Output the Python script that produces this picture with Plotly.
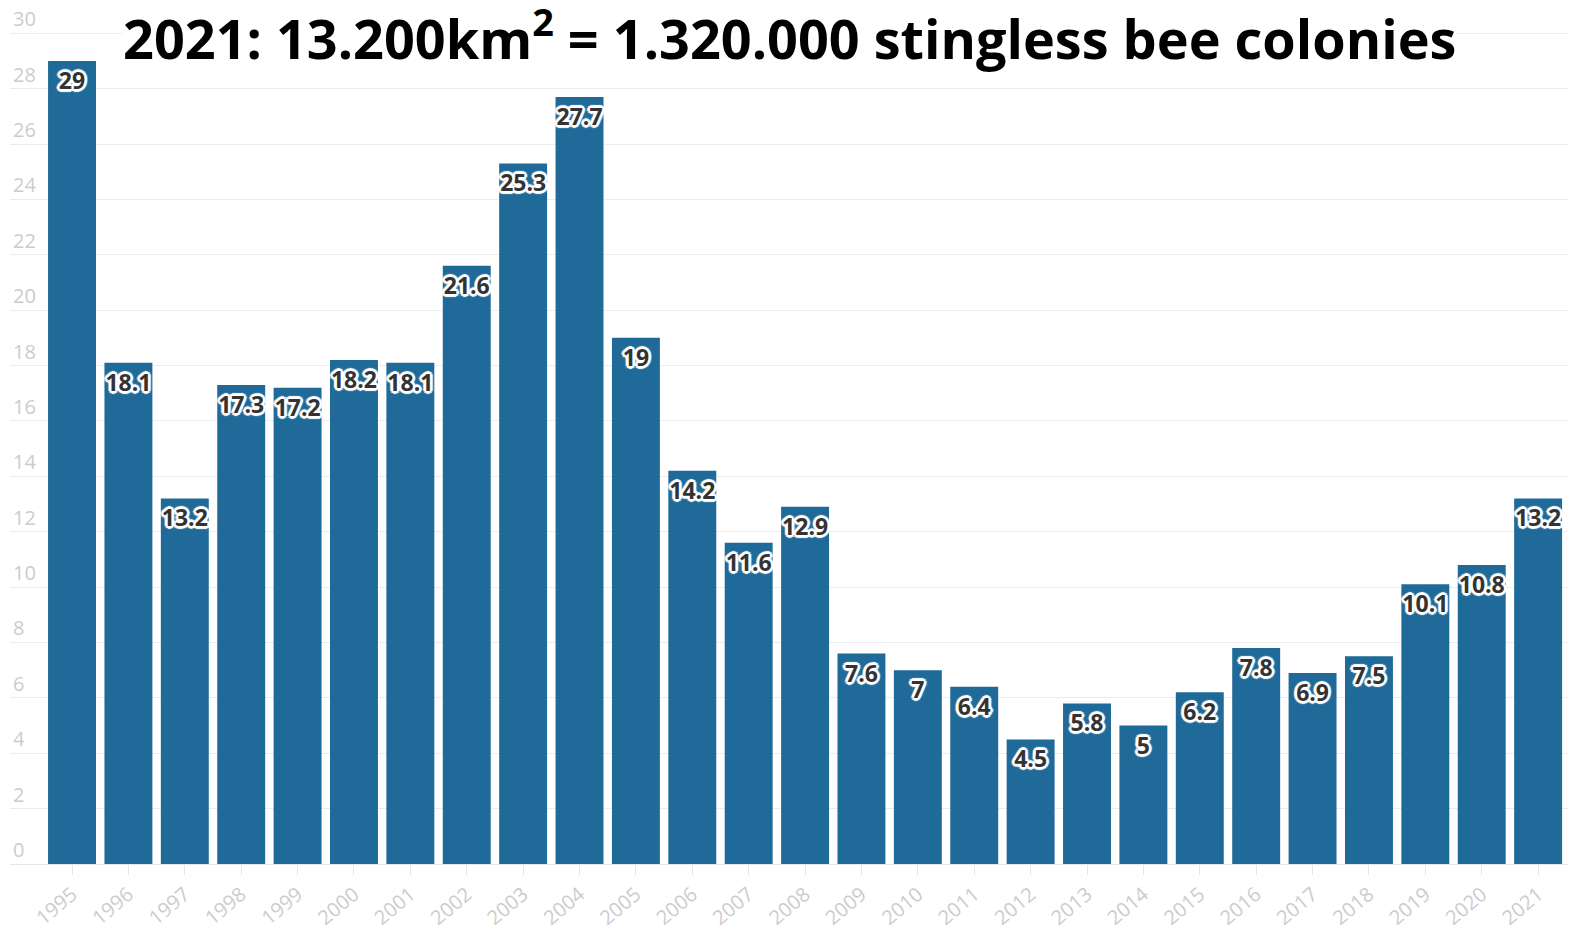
import plotly.graph_objects as go

years = [str(y) for y in range(1995, 2022)]
values = [29, 18.1, 13.2, 17.3, 17.2, 18.2, 18.1, 21.6, 25.3, 27.7, 19, 14.2, 11.6, 12.9,
          7.6, 7, 6.4, 4.5, 5.8, 5, 6.2, 7.8, 6.9, 7.5, 10.1, 10.8, 13.2]
labels = [f"{v:g}" for v in values]
title_text = "2021: 13.200km<sup>2</sup> = 1.320.000 stingless bee colonies"

halo = ("3px 0 1px #fff, -3px 0 1px #fff, 0 3px 1px #fff, 0 -3px 1px #fff, "
        "2px 2px 1px #fff, -2px -2px 1px #fff, 2px -2px 1px #fff, -2px 2px 1px #fff")

fig = go.Figure(go.Bar(
    x=years, y=values, text=labels,
    textposition="inside", insidetextanchor="end", textangle=0,
    constraintext="none",
    textfont=dict(family="Open Sans", size=23, color="#333333", weight=700, shadow=halo),
    marker=dict(color="#1f6a98", line=dict(width=0)),
    hoverinfo="skip",
))

fig.update_layout(
    width=1583, height=933,
    margin=dict(l=10, r=15, t=0, b=69),
    paper_bgcolor="white", plot_bgcolor="white",
    bargap=0.15, showlegend=False,
    xaxis=dict(type="category", range=[-1.1, 26.53], tickangle=-40, automargin=False,
               tickfont=dict(family="Open Sans", size=20, color="#cccccc"),
               ticks="outside", ticklen=10, tickcolor="#e6e6e6", showgrid=False,
               showline=True, linecolor="#e6e6e6", zeroline=False),
    yaxis=dict(range=[0, 31.2], tickvals=list(range(0, 31, 2)),
               ticklabelposition="inside top", automargin=False,
               tickfont=dict(family="Open Sans", size=20, color="#cccccc"),
               showgrid=True, gridcolor="#ececec", zeroline=False, showline=False),
)
fig.add_annotation(text="<b>" + title_text + "</b>", xref="paper", yref="paper",
                   x=0.5006, y=0.959, yanchor="middle", showarrow=False,
                   font=dict(family="Open Sans", size=54, color="#000000"),
                   bgcolor="white", borderpad=0)

fig.write_html("out.html", config={"displayModeBar": False},
               post_script="document.body.style.margin='0';")
